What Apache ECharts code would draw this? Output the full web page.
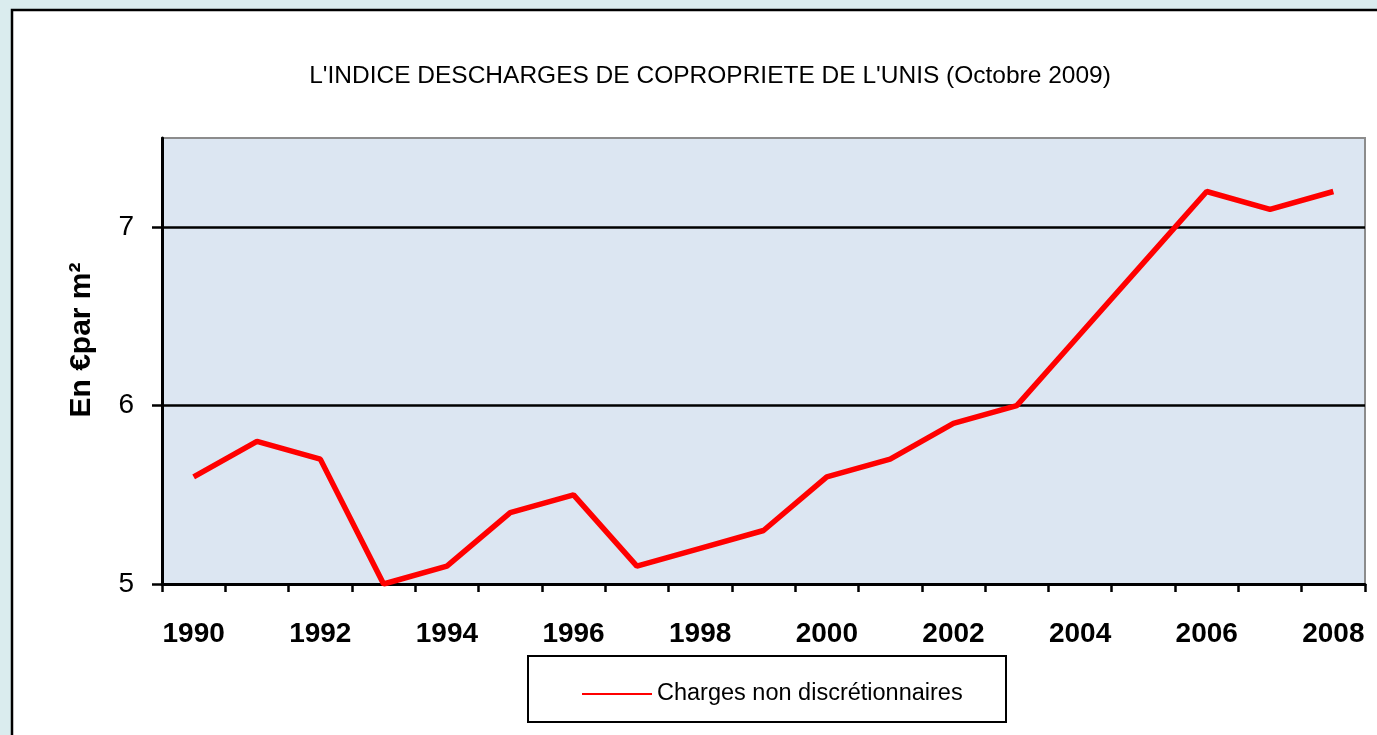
<!DOCTYPE html>
<html>
<head>
<meta charset="utf-8">
<script src="https://cdn.jsdelivr.net/npm/echarts@6/dist/echarts.min.js"></script>
<style>
  html, body { margin: 0; padding: 0; background: #daecee; }
  #chart { width: 1377px; height: 735px; }
</style>
</head>
<body>
<div id="chart"></div>
<script>
// Data
const years = ['1990', '1991', '1992', '1993', '1994', '1995', '1996', '1997', '1998', '1999',
               '2000', '2001', '2002', '2003', '2004', '2005', '2006', '2007', '2008'];
const charges = [5.6, 5.8, 5.7, 5.0, 5.1, 5.4, 5.5, 5.1, 5.2, 5.3,
                 5.6, 5.7, 5.9, 6.0, 6.4, 6.8, 7.2, 7.1, 7.2];
const yTicks = [5, 6, 7];
const seriesName = 'Charges non discrétionnaires';
const titleText = "L'INDICE DESCHARGES DE COPROPRIETE DE L'UNIS (Octobre 2009)";
const yName = 'En €par m²';

const NARROW = '"Liberation Sans Narrow", "Arial Narrow", "Liberation Sans", sans-serif';
const BOLD = '"Liberation Sans", Arial, sans-serif';

const chart = echarts.init(document.getElementById('chart'), null, { renderer: 'canvas' });

chart.setOption({
  backgroundColor: '#daecee',
  animation: false,
  graphic: [
    // white chart panel with black frame
    {
      type: 'rect', z: -10, silent: true,
      shape: { x: 12, y: 10, width: 1400, height: 760 },
      style: { fill: '#ffffff', stroke: '#000000', lineWidth: 2.5 }
    },
    // plot-area background, grey frame on top/right
    {
      type: 'rect', z: -5, silent: true,
      shape: { x: 162, y: 138, width: 1203, height: 446 },
      style: { fill: '#dce6f2', stroke: '#8c8c8c', lineWidth: 2 }
    },
    // legend box
    {
      type: 'rect', z: 1, silent: true,
      shape: { x: 528, y: 656, width: 478, height: 66 },
      style: { fill: '#ffffff', stroke: '#000000', lineWidth: 2 }
    }
  ],
  title: {
    text: titleText,
    left: 705, top: 59, textAlign: 'center',
    textStyle: { fontFamily: NARROW, fontSize: 24.5, fontWeight: 'normal', color: '#000' }
  },
  legend: {
    data: [seriesName],
    left: 577, top: 677,
    itemWidth: 70, itemHeight: 14, itemGap: 7,
    icon: 'path://M0,6 L70,6 L70,8 L0,8 Z',
    textStyle: { fontFamily: NARROW, fontSize: 23.5, color: '#000' },
    z: 5
  },
  grid: { left: 162, right: 12, top: 138, bottom: 151 },
  xAxis: {
    type: 'category',
    data: years,
    boundaryGap: true,
    axisLine: { lineStyle: { color: '#000', width: 3 } },
    axisTick: { show: true, length: 8, interval: 0, lineStyle: { color: '#000', width: 2.5 } },
    axisLabel: {
      interval: 1, margin: 36, color: '#000',
      fontFamily: BOLD, fontWeight: 'bold', fontSize: 28
    },
    splitLine: { show: false }
  },
  yAxis: {
    type: 'value',
    min: 5, max: 7.5, interval: 1,
    name: yName,
    nameLocation: 'middle',
    nameGap: 65,
    nameRotate: 90,
    nameTextStyle: {
      fontFamily: BOLD, fontWeight: 'bold', fontSize: 30, color: '#000',
      padding: [0, 0, 0, 42]
    },
    axisLine: { show: true, lineStyle: { color: '#000', width: 3 } },
    axisTick: { show: true, length: 10, customValues: yTicks, lineStyle: { color: '#000', width: 2.5 } },
    axisLabel: {
      margin: 28, color: '#000', fontFamily: NARROW, fontSize: 28,
      customValues: yTicks
    },
    splitLine: {
      show: true,
      lineStyle: { color: '#000', width: 2.5 }
    }
  },
  series: [{
    name: seriesName,
    type: 'line',
    data: charges,
    showSymbol: false,
    symbol: 'none',
    lineStyle: { color: '#ff0000', width: 5.5 },
    itemStyle: { color: '#ff0000' },
    z: 3
  }]
});
</script>
</body>
</html>
